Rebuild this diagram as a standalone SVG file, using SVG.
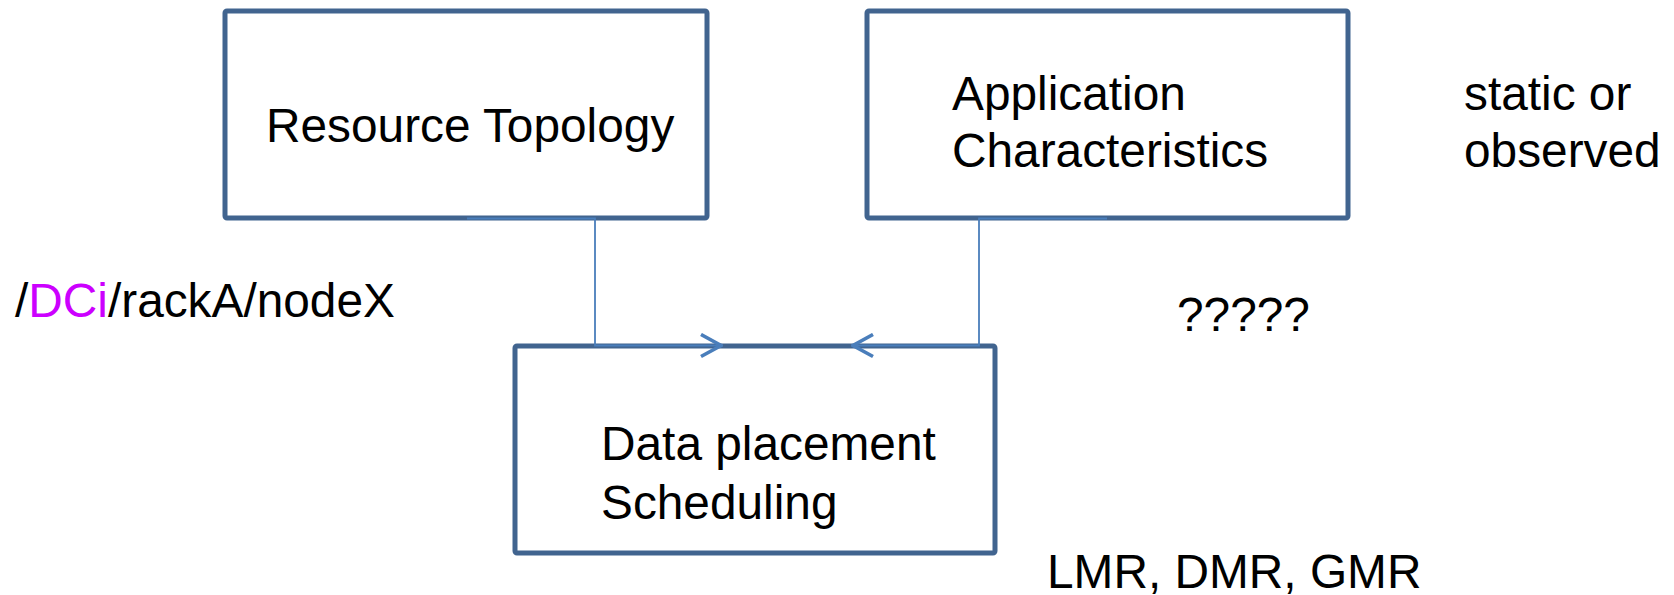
<svg xmlns="http://www.w3.org/2000/svg" width="1674" height="595" viewBox="0 0 1674 595">
  <style>
    .box { fill: #ffffff; stroke: #41648f; stroke-width: 5; }
    .lbl { font-family: "Liberation Sans", Arial, sans-serif; font-size: 47.8px; fill: #000000; }
    .conn { fill: none; stroke: #4a7ebb; stroke-width: 1.8; }
    .hl { fill: #cc00ff; }
  </style>
  <defs>
    <marker id="chev" markerUnits="userSpaceOnUse" viewBox="0 0 24 26" refX="22" refY="13" markerWidth="24" markerHeight="26" orient="auto">
      <path d="M2,2 L22,13 L2,24" fill="none" stroke="#4a7ebb" stroke-width="3.6"/>
    </marker>
  </defs>
  <rect width="1674" height="595" fill="#ffffff"/>

  <g id="resource-topology">
    <rect class="box" x="225" y="11" width="482" height="207" rx="2"/>
    <text class="lbl" x="266" y="142">Resource Topology</text>
  </g>

  <g id="application-characteristics">
    <rect class="box" x="867" y="11" width="481" height="207" rx="2"/>
    <text class="lbl" x="952" y="110">Application</text>
    <text class="lbl" x="952" y="167">Characteristics</text>
  </g>

  <g id="data-placement">
    <rect class="box" x="515" y="346" width="480" height="207" rx="2"/>
    <text class="lbl" x="601" y="460">Data placement</text>
    <text class="lbl" x="601" y="519">Scheduling</text>
  </g>

  <g id="connectors">
    <path class="conn" d="M467,218.5 H595 V345.5 H721" marker-end="url(#chev)"/>
    <path class="conn" d="M1107,218.5 H979 V345.5 H853" marker-end="url(#chev)"/>
  </g>

  <g id="annotations">
    <text class="lbl" x="1464" y="110">static or</text>
    <text class="lbl" x="1464" y="167">observed</text>
    <text class="lbl" x="15" y="317">/<tspan class="hl">DCi</tspan>/rackA/nodeX</text>
    <text class="lbl" x="1177" y="331">?????</text>
    <text class="lbl" x="1047" y="588">LMR, DMR, GMR</text>
  </g>
</svg>
